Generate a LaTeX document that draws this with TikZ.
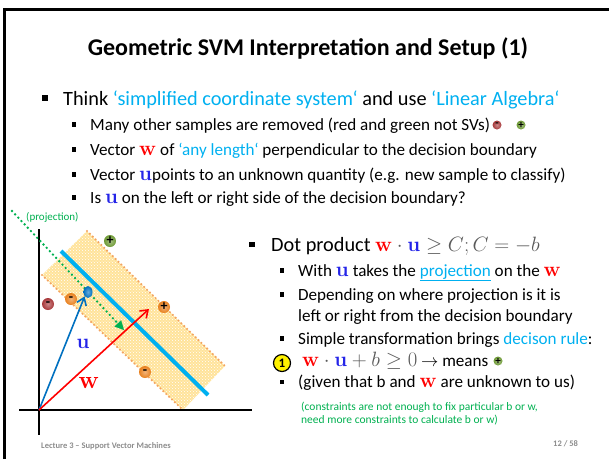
\documentclass[tikz,border=0pt]{standalone}
\usepackage[no-math]{fontspec}
\setmainfont{Carlito}
\usetikzlibrary{arrows.meta,patterns,calc,shapes.geometric}

\definecolor{skyb}{HTML}{00B0F0}
\definecolor{grn}{HTML}{00B050}
\definecolor{wred}{HTML}{FF0000}
\definecolor{ublue}{HTML}{2424E8}
\definecolor{vecblue}{HTML}{0070C0}
\definecolor{bandfill}{HTML}{FFE39A}
\definecolor{bandedge}{HTML}{F4A460}
\definecolor{mgrey}{HTML}{5A5A5A}
\definecolor{footgrey}{HTML}{8C8C8C}
\definecolor{ballgreen}{HTML}{6E9A35}
\definecolor{ballred}{HTML}{A8383A}
\definecolor{ballorange}{HTML}{E8801E}

% bold vector symbols at a given size
\newcommand{\vecw}[1]{{\fontsize{#1}{#1}\selectfont\textcolor{wred}{$\mathbf{w}$}}}
\newcommand{\vecu}[1]{{\fontsize{#1}{#1}\selectfont\textcolor{ublue}{$\mathbf{u}$}}}

\tikzset{
  lvlone/.style={anchor=base west, inner sep=0pt, font=\fontsize{20.3}{24}\selectfont},
  lvltwo/.style={anchor=base west, inner sep=0pt, font=\fontsize{17.1}{21}\selectfont},
  bulone/.style={fill=black, minimum size=5.5pt, inner sep=0pt},
  bultwo/.style={fill=black, minimum size=4.5pt, inner sep=0pt},
  glossy/.style={shading=radial, inner color=#1!60!white, outer color=#1},
  sample/.style={circle, minimum size=12pt, inner sep=0pt, glossy=#1,
                 font=\bfseries\fontsize{14}{14}\selectfont},
  minisample/.style={circle, minimum size=9pt, inner sep=0pt, glossy=#1,
                 font=\bfseries\fontsize{11}{11}\selectfont},
  axisline/.style={line width=1.5pt, black},
  bandline/.style={bandedge, line width=2.4pt, line cap=round, dash pattern=on 0pt off 4pt},
  vecarrow/.style={line width=1.6pt, #1, -{Straight Barb[length=7pt,width=10pt]}},
  smallgreen/.style={anchor=base west, inner sep=0pt, text=grn, font=\fontsize{11.5}{13}\selectfont},
  foot/.style={anchor=base west, inner sep=0pt, text=footgrey, font=\bfseries\fontsize{8.5}{10}\selectfont}
}

\begin{document}
\begin{tikzpicture}[x=1pt,y=-1pt]
\path[use as bounding box] (0,0) rectangle (609,459);

% frame edges
\draw[line width=3pt] (4.8,459) -- (4.8,9.2) -- (609,9.2);

% title
\node[anchor=base, inner sep=0pt, font=\bfseries\fontsize{24}{28}\selectfont] (title) at (308,55)
  {Geometric SVM Interpretation and Setup (1)};

% upper bullet list
\node[bulone] (b1) at (45,98) {};
\node[lvlone] (l1) at (63,105) {Think \textcolor{skyb}{‘simplified coordinate system‘} and use \textcolor{skyb}{‘Linear Algebra‘}};

\node[bultwo] (b2) at (74,124.5) {};
\node[lvltwo] (l2) at (90,130) {Many other samples are removed (red and green not SVs)};
\node[minisample=ballred] (lr) at (497,125) {-};
\node[minisample=ballgreen] (lg) at (521,125) {+};

\node[bultwo] (b3) at (74,149.5) {};
\node[lvltwo] (l3) at (90,155) {Vector \vecw{22} of \textcolor{skyb}{‘any length‘} perpendicular to the decision boundary};

\node[bultwo] (b4) at (74,174.5) {};
\node[lvltwo] (l4) at (90,180) {Vector \vecu{21}points to an unknown quantity (e.g. new sample to classify)};

\node[bultwo] (b5) at (74,197.5) {};
\node[lvltwo] (l5) at (90,203) {Is \vecu{21} on the left or right side of the decision boundary?};

% right bullet list
\node[bulone] (r0) at (252,244.5) {};
\node[lvlone] (d0) at (271,251) {Dot product
  {\fontsize{20}{20}\selectfont$\color{wred}\mathbf{w}\color{mgrey}\cdot\color{ublue}\mathbf{u}\color{mgrey}\geq C; C=-b$}};

\node[bultwo] (r1) at (282,270.5) {};
\node[lvltwo] (d1) at (298,276) {With \vecu{21} takes the \textcolor{skyb}{\underline{projection}} on the \vecw{21}};

\node[bultwo] (r2) at (282,294.5) {};
\node[lvltwo] (d2) at (298,300) {Depending on where projection is it is};
\node[lvltwo] (d2b) at (298,321) {left or right from the decision boundary};

\node[bultwo] (r3) at (282,338.5) {};
\node[lvltwo] (d3) at (298,344) {Simple transformation brings \textcolor{skyb}{decison rule}:};

\node[circle, draw, line width=1.2pt, fill=yellow, minimum size=17pt, inner sep=0pt,
      font=\bfseries\fontsize{13}{13}\selectfont] (one) at (282,363) {1};
\node[lvltwo] (d4) at (302,366)
  {\smash{\fontsize{20}{20}\selectfont$\color{wred}\mathbf{w}\color{mgrey}\cdot\color{ublue}\mathbf{u}\color{mgrey}+b\geq 0$} $\rightarrow$ means};
\node[minisample=ballgreen] (mg) at (498,361) {+};

\node[bultwo] (r5) at (282,382) {};
\node[lvltwo] (d5) at (298,387) {(given that b and \vecw{22} are unknown to us)};

\node[smallgreen] (g1) at (301,410) {(constraints are not enough to fix particular b or w,};
\node[smallgreen] (g2) at (301,423) {need more constraints to calculate b or w)};

% footer
\node[foot] (lec) at (41,448) {Lecture 3 – Support Vector Machines};
\node[foot] (pg) at (553,446) {12 / 58};

% ---- geometric sketch ----
\coordinate (O) at (39,410);
\coordinate (yT) at (39,229);
\coordinate (yB) at (39,435);
\coordinate (xL) at (19,410);
\coordinate (xR) at (252,410);

% margin band
\coordinate (bA) at (87,231);
\coordinate (bB) at (225,366);
\coordinate (bC) at (183,410);
\coordinate (bD) at (42,275);
\fill[bandfill] (bA) -- (bB) -- (bC) -- (bD) -- cycle;
\fill[pattern=crosshatch dots, pattern color=white] (bA) -- (bB) -- (bC) -- (bD) -- cycle;
\draw[bandline] (bA) -- (bB);
\draw[bandline] (bD) -- (bC);

% axes
\draw[axisline] (yT) -- (yB);
\draw[axisline] (xL) -- (xR);

% decision boundary
\coordinate (dbA) at (61,251);
\coordinate (dbB) at (208,395);
\draw[skyb, line width=4pt] (dbA) -- (dbB);

% projection direction
\coordinate (pS) at (12,211);
\coordinate (pE) at (124,330);
\draw[grn, line width=2.6pt, line cap=round, dash pattern=on 0pt off 4.6pt] (pS) -- ($(pS)!0.96!(pE)$);
\draw[grn, -{Triangle[length=9pt,width=9pt]}, line width=0.1pt] ($(pS)!0.9!(pE)$) -- (pE);
\node[anchor=base west, inner sep=0pt, text=grn, font=\fontsize{11}{13}\selectfont] (proj) at (26,220) {(projection)};

% samples
\node[sample=ballgreen] (s1) at (110,241) {+};
\node[sample=ballred] (s2) at (48,304) {-};
\node[sample=ballorange] (s3) at (71,299) {-};
\node[sample=ballorange] (s4) at (164,307) {+};
\node[sample=ballorange] (s5) at (145,372) {-};

% vectors
\node[ellipse, minimum width=9pt, minimum height=12pt, inner sep=0pt, glossy=vecblue] (upt) at (88,292) {};
\coordinate (wtip) at (149,309);
\draw[vecarrow=vecblue] (O) -- (upt.south west);
\draw[vecarrow=wred] (O) -- (wtip);

\node[inner sep=0pt] (ulab) at (83,344) {\vecu{20}};
\node[inner sep=0pt] (wlab) at (89,383) {\vecw{23}};
\end{tikzpicture}
\end{document}
